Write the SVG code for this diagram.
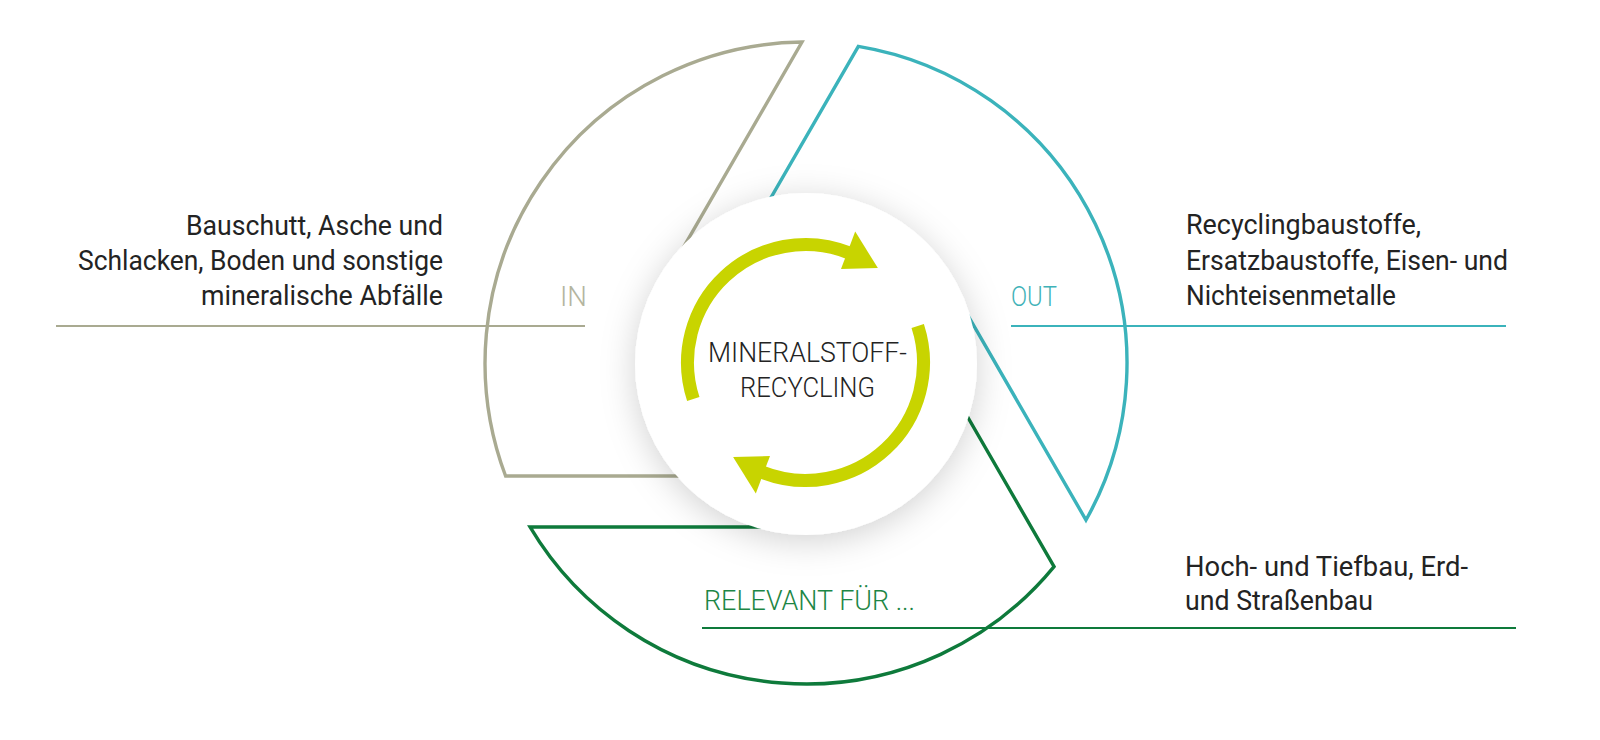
<svg xmlns="http://www.w3.org/2000/svg" width="1600" height="740" viewBox="0 0 1600 740">
<defs>
<style>
.seg{fill:none;stroke-width:3.4;stroke-linejoin:miter}
.c-in{stroke:#a9aa91}
.c-out{stroke:#3bb3bb}
.c-rel{stroke:#0e7a3b}
.rule{stroke-width:2;fill:none}
.txt{font-family:Roboto,"Liberation Sans",sans-serif;font-weight:400;font-size:28px;fill:#232323}
.lbl{font-family:Roboto,"Liberation Sans",sans-serif;font-weight:300;font-size:28px}
.arrow{fill:none;stroke:#c8d400;stroke-width:13}
.head{fill:#c8d400}
</style>
<path id="sector" d="M -300.4 113 A 321 321 0 0 1 -4 -321 L -142 -82 L 0 0 L 0 113 Z"/>
<filter id="sh" x="-40%" y="-40%" width="180%" height="180%">
<feDropShadow dx="0" dy="6" stdDeviation="17" flood-color="#000" flood-opacity="0.18"/>
</filter>
</defs>
<rect width="1600" height="740" fill="#fff"/>

<g id="node-in">
<use href="#sector" class="seg c-in" transform="translate(806 363)"/>
<text class="lbl" x="560" y="306" fill="#b4b59f" textLength="27" lengthAdjust="spacingAndGlyphs">IN</text>
<text class="txt" x="443" y="235" text-anchor="end" textLength="257" lengthAdjust="spacingAndGlyphs">Bauschutt, Asche und</text>
<text class="txt" x="443" y="270" text-anchor="end" textLength="365" lengthAdjust="spacingAndGlyphs">Schlacken, Boden und sonstige</text>
<text class="txt" x="443" y="305" text-anchor="end" textLength="242" lengthAdjust="spacingAndGlyphs">mineralische Abfälle</text>
</g>

<g id="node-out">
<use href="#sector" class="seg c-out" transform="translate(806 363) rotate(120)"/>
<text class="lbl" x="1011" y="306" fill="#3fb2b8" textLength="46" lengthAdjust="spacingAndGlyphs">OUT</text>
<text class="txt" x="1186" y="234" textLength="235" lengthAdjust="spacingAndGlyphs">Recyclingbaustoffe,</text>
<text class="txt" x="1186" y="270" textLength="322" lengthAdjust="spacingAndGlyphs">Ersatzbaustoffe, Eisen- und</text>
<text class="txt" x="1186" y="305" textLength="210" lengthAdjust="spacingAndGlyphs">Nichteisenmetalle</text>
</g>

<g id="node-relevant">
<use href="#sector" class="seg c-rel" transform="translate(806 363) rotate(240)"/>
<text class="lbl" x="704" y="610" fill="#1d8645" textLength="211" lengthAdjust="spacingAndGlyphs">RELEVANT FÜR ...</text>
<text class="txt" x="1185" y="576" textLength="283" lengthAdjust="spacingAndGlyphs">Hoch- und Tiefbau, Erd-</text>
<text class="txt" x="1185" y="610" textLength="188" lengthAdjust="spacingAndGlyphs">und Straßenbau</text>
</g>

<g id="connectors">
<line class="rule" x1="56" y1="326" x2="585" y2="326" stroke="#a9aa91"/>
<line class="rule" x1="1011" y1="326" x2="1506" y2="326" stroke="#3bb3bb"/>
<line class="rule" x1="702" y1="628" x2="1516" y2="628" stroke="#0e7a3b"/>
</g>

<g id="node-center">
<circle cx="806" cy="364" r="171" fill="#fff" filter="url(#sh)"/>
<path class="arrow" d="M 693.3 399 A 118 118 0 0 1 849.7 253.1"/>
<polygon class="head" points="855.2,231.6 877.9,268.1 841,269"/>
<path class="arrow" d="M 917.7 326 A 118 118 0 0 1 761.3 471.9"/>
<polygon class="head" points="755.8,493.4 733.1,456.9 770,456"/>
<text class="lbl" x="807.5" y="362" text-anchor="middle" font-size="29" fill="#232323" textLength="199" lengthAdjust="spacingAndGlyphs">MINERALSTOFF-</text>
<text class="lbl" x="807.5" y="397" text-anchor="middle" font-size="29" fill="#232323" textLength="135" lengthAdjust="spacingAndGlyphs">RECYCLING</text>
</g>
</svg>
